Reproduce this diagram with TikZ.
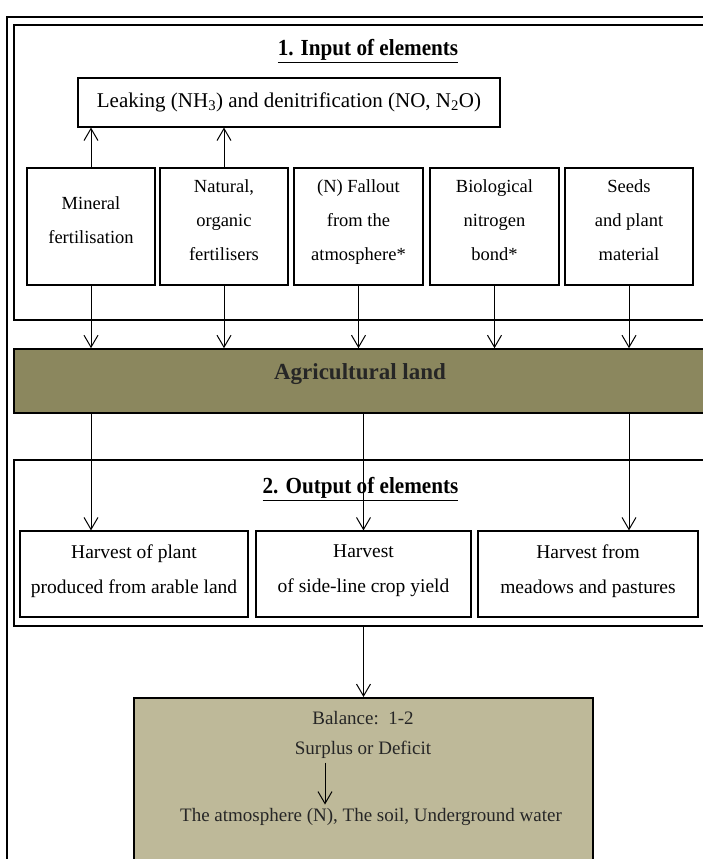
\documentclass[tikz,border=0pt]{standalone}
\usepackage{fontspec}
\setmainfont{Liberation Serif}
\newfontfamily\headfont{Liberation Serif}[FakeStretch=0.92]
\usetikzlibrary{arrows.meta}
\definecolor{landcol}{RGB}{139,135,94}
\definecolor{balcol}{RGB}{190,185,153}
\begin{document}
\begin{tikzpicture}[x=1pt,y=-1pt,line width=1pt,
    >={Straight Barb[length=12pt,width=14pt]},
    box/.style={draw,line width=1.2pt,inner sep=0pt,align=center,
      font=\fontsize{18.5}{34}\selectfont,text depth=12pt},
    hbox/.style={box,font=\fontsize{19.5}{35}\selectfont,text depth=10pt},
    frame/.style={draw,line width=1.6pt,inner sep=0pt},
    head/.style={font=\headfont\fontsize{23}{25}\selectfont\bfseries},
    baltext/.style={font=\fontsize{19}{22}\selectfont,text=black!85}]
  \clip (0,0) rectangle (703,859);
  \useasboundingbox (0,0) rectangle (703,859);
  \draw[line width=2pt] (7,17) rectangle (730,900);
  % 1. input
  \node[frame,minimum width=700,minimum height=295] (inp) at (364,172.5) {};
  \node[head] (inhead) at (368,51) {\underline{1. Input of elements}};
  \node[draw,line width=1.2pt,inner sep=0pt,font=\fontsize{21}{24}\selectfont,
    minimum width=422,minimum height=49] (leak) at (289,102.5)
    {Leaking (NH\textsubscript{3}) and denitrification (NO, N\textsubscript{2}O)};
  \node[box,minimum width=128,minimum height=117] (b1) at (91,226.5) {Mineral\\fertilisation};
  \node[box,minimum width=128,minimum height=117] (b2) at (224,226.5) {Natural,\\organic\\fertilisers};
  \node[box,minimum width=129,minimum height=117] (b3) at (358.5,226.5) {(N) Fallout\\from the\\atmosphere*};
  \node[box,minimum width=129,minimum height=117] (b4) at (494.5,226.5) {Biological\\nitrogen\\bond*};
  \node[box,minimum width=128,minimum height=117] (b5) at (629,226.5) {Seeds\\and plant\\material};
  \draw[->] (b1.north) -- (b1.north |- leak.south);
  \draw[->] (b2.north) -- (b2.north |- leak.south);
  % agricultural land
  \node[draw,line width=1.6pt,fill=landcol,minimum width=694,minimum height=64,
    inner sep=0pt] (land) at (361,381) {};
  \node[text=black!85,font=\fontsize{23}{25}\selectfont\bfseries] (landtxt) at (360,374) {Agricultural land};
  \foreach \b in {b1,b2,b3,b4,b5}
    \draw[->] (\b.south) -- (\b.south |- land.north);
  % 2. output
  \node[frame,minimum width=700,minimum height=166] (outp) at (364,543) {};
  \node[head] (outhead) at (360.5,489) {\underline{2. Output of elements}};
  \node[hbox,minimum width=228,minimum height=86] (h1) at (134,574) {Harvest of plant\\produced from arable land};
  \node[hbox,minimum width=215,minimum height=86] (h2) at (363.5,574) {Harvest\\of side-line crop yield};
  \node[hbox,minimum width=220,minimum height=86] (h3) at (588,574) {Harvest from\\meadows and pastures};
  \draw[->] (land.south -| b1) -- (h1.north -| b1);
  \draw[->] (land.south -| h2) -- (h2.north);
  \draw[->] (land.south -| b5) -- (h3.north -| b5);
  % balance
  \node[draw,line width=1.6pt,fill=balcol,minimum width=459,minimum height=200,
    inner sep=0pt,anchor=north] (bal) at (363.5,697) {};
  \draw[->] (bal.north |- outp.south) -- (bal.north);
  \node[baltext] (bal1) at (363,718) {Balance:\ \ 1-2};
  \node[baltext] (bal2) at (363,750) {Surplus or Deficit};
  \node[baltext] (bal3) at (371,817) {The atmosphere (N), The soil, Underground water};
  \draw[->] ([xshift=-38pt]bal2.south) -- ([xshift=-38pt]bal2.south |- bal3.north);
\end{tikzpicture}
\end{document}
